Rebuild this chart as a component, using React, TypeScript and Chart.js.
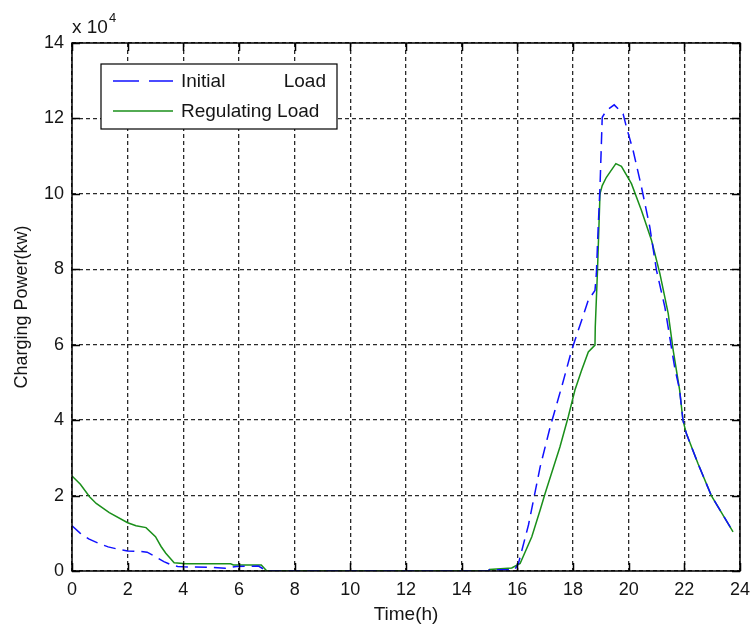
import React, { useEffect, useRef } from "react";
import { Chart, registerables } from "chart.js";

Chart.register(...registerables);

// Time (h) and load (kW)
const initialTime = [
  0, 0.3, 0.6, 1.0, 1.3, 1.7, 2.0, 2.4, 2.7, 3.0, 3.3, 3.6, 3.8, 4.0, 5.0, 5.5, 5.9, 6.7, 7.0,
  14.95, 15.0, 15.9, 16.04, 16.4, 16.82, 17.18, 17.6, 17.95, 18.07, 18.37, 18.55, 18.79, 18.84,
  18.9, 18.97, 19.05, 19.2, 19.48, 19.8, 19.92, 20.16, 20.46, 20.76, 21.0, 21.3, 21.65, 21.83,
  21.95, 22.07, 22.49, 22.97, 23.75,
];
const initialLoad = [
  12000, 10000, 8500, 7200, 6400, 5700, 5300, 5200, 5000, 3800, 2500, 1500, 1200, 1100, 1000, 700, 1200, 1300, 0,
  0, 300, 300, 2000, 12200, 27600, 38200, 49000, 58500, 61200, 67800, 71800, 74400, 78900,
  90300, 101800, 120300, 122100, 123600, 121200, 117700, 111500, 101800, 91200, 79700, 70000, 54100, 48000,
  40000, 36500, 28500, 20000, 10400,
];

const regulatingTime = [
  0, 0.3, 0.63, 0.87, 1.34, 2.0, 2.3, 2.66, 3.0, 3.2, 3.37, 3.67, 4.1, 5.7, 5.8, 6.8, 7.0,
  14.95, 15.0, 15.8, 16.1, 16.52, 16.82, 17.0, 17.53, 17.83, 18.07, 18.3, 18.55, 18.79, 18.8,
  18.88, 18.97, 19.05, 19.2, 19.54, 19.74, 20.1, 20.46, 20.82, 21.12, 21.42, 21.6, 21.83,
  21.95, 22.07, 22.49, 22.97, 23.75,
];
const regulatingLoad = [
  25200, 23000, 19700, 17900, 15500, 12800, 12000, 11500, 9100, 6500, 4700, 2200, 1900, 1900, 1600, 1600, 0,
  0, 400, 800, 2000, 9100, 16200, 20600, 32900, 40900, 48000, 53000, 58100, 59900, 64700,
  79700, 100000, 102200, 104400, 108000, 107300, 102700, 95600, 87700, 78900, 68300, 58500, 48000,
  40000, 36500, 28500, 20000, 10400,
];

const xTickValues = [0, 2, 4, 6, 8, 10, 12, 14, 16, 18, 20, 22, 24];
const yTickValues = [0, 20000, 40000, 60000, 80000, 100000, 120000, 140000];
const yExponent = "4";
const seriesNames = ["Initial Load", "Regulating Load"];

const FONT = "'Liberation Sans', Arial, sans-serif";
const TEXT = "#151515";

const toPoints = (t: number[], v: number[]) => t.map((x, i) => ({ x, y: v[i] }));

const framePlugin = {
  id: "matlabFrame",
  afterDraw(chart: any) {
    const { ctx, chartArea: a, scales } = chart;
    const x = scales.x;
    const y = scales.y;
    ctx.save();
    ctx.strokeStyle = "#000";
    ctx.lineWidth = 1.5;
    ctx.setLineDash([]);
    ctx.strokeRect(a.left, a.top, a.right - a.left, a.bottom - a.top);
    const tl = 8;
    ctx.beginPath();
    xTickValues.forEach((v) => {
      const px = Math.round(x.getPixelForValue(v)) + 0.5;
      ctx.moveTo(px, a.bottom);
      ctx.lineTo(px, a.bottom - tl);
      ctx.moveTo(px, a.top);
      ctx.lineTo(px, a.top + tl);
    });
    yTickValues.forEach((v) => {
      const py = Math.round(y.getPixelForValue(v)) + 0.5;
      ctx.moveTo(a.left, py);
      ctx.lineTo(a.left + tl, py);
      ctx.moveTo(a.right, py);
      ctx.lineTo(a.right - tl, py);
    });
    ctx.stroke();

    // exponent label
    ctx.fillStyle = TEXT;
    ctx.font = `19px ${FONT}`;
    ctx.textBaseline = "alphabetic";
    ctx.textAlign = "left";
    const base = "x 10";
    ctx.fillText(base, a.left, a.top - 10);
    const w = ctx.measureText(base).width;
    ctx.font = `13px ${FONT}`;
    ctx.fillText(yExponent, a.left + w + 1, a.top - 21);

    // legend box
    const lx = a.left + 29;
    const ly = a.top + 21;
    const lw = 236;
    const lh = 65;
    ctx.fillStyle = "#fff";
    ctx.fillRect(lx, ly, lw, lh);
    ctx.strokeStyle = "#000";
    ctx.lineWidth = 1.2;
    ctx.strokeRect(lx, ly, lw, lh);
    ctx.font = `19px ${FONT}`;
    ctx.textBaseline = "middle";
    const textX = lx + 80;
    const textRight = lx + lw - 11;
    chart.data.datasets.forEach((ds: any, i: number) => {
      const rowY = ly + 17 + i * 30;
      ctx.strokeStyle = ds.borderColor;
      ctx.lineWidth = 1.5;
      ctx.setLineDash(i === 0 ? [26, 10] : []);
      ctx.beginPath();
      ctx.moveTo(lx + 12, rowY);
      ctx.lineTo(lx + 72, rowY);
      ctx.stroke();
      ctx.setLineDash([]);
      ctx.fillStyle = TEXT;
      const words = String(ds.label).split(" ");
      if (i === 0 && words.length > 1) {
        ctx.textAlign = "left";
        ctx.fillText(words[0], textX, rowY + 1);
        ctx.textAlign = "right";
        ctx.fillText(words.slice(1).join(" "), textRight, rowY + 1);
      } else {
        ctx.textAlign = "left";
        ctx.fillText(ds.label, textX, rowY + 1);
      }
    });
    ctx.restore();
  },
};

export default function App() {
  const ref = useRef<HTMLCanvasElement | null>(null);

  useEffect(() => {
    if (!ref.current) return;
    const chart = new Chart(ref.current, {
      type: "line",
      data: {
        datasets: [
          {
            label: seriesNames[0],
            data: toPoints(initialTime, initialLoad),
            borderColor: "#1010ff",
            borderWidth: 1.5,
            borderDash: [12, 7],
            pointRadius: 0,
            tension: 0,
            fill: false,
          },
          {
            label: seriesNames[1],
            data: toPoints(regulatingTime, regulatingLoad),
            borderColor: "#1a8f1a",
            borderWidth: 1.5,
            pointRadius: 0,
            tension: 0,
            fill: false,
          },
        ],
      },
      options: {
        responsive: false,
        animation: false,
        devicePixelRatio: 1,
        layout: { padding: { top: 43, right: 12, left: 0, bottom: 0 } },
        plugins: { legend: { display: false }, tooltip: { enabled: false } },
        scales: {
          x: {
            type: "linear",
            min: 0,
            max: 24,
            afterBuildTicks: (s: any) => {
              s.ticks = xTickValues.map((v) => ({ value: v }));
            },
            afterFit: (s: any) => {
              s.height = 56;
              s.paddingLeft = 0;
              s.paddingRight = 0;
            },
            ticks: {
              font: { family: FONT, size: 18 },
              color: TEXT,
              padding: 8,
              maxRotation: 0,
              autoSkip: false,
            },
            grid: { color: "#2a2a2a", lineWidth: 1.3, drawTicks: false },
            border: { display: false, dash: [4, 3] },
            title: {
              display: true,
              text: "Time(h)",
              font: { family: FONT, size: 19 },
              color: TEXT,
              padding: { top: 0, bottom: 1 },
            },
          },
          y: {
            type: "linear",
            min: 0,
            max: 140000,
            afterBuildTicks: (s: any) => {
              s.ticks = yTickValues.map((v) => ({ value: v }));
            },
            afterFit: (s: any) => {
              s.width = 72;
              s.paddingTop = 0;
              s.paddingBottom = 0;
            },
            ticks: {
              font: { family: FONT, size: 18 },
              color: TEXT,
              padding: 8,
              callback: (v: any) => String(Number(v) / 10000),
            },
            grid: { color: "#2a2a2a", lineWidth: 1.3, drawTicks: false },
            border: { display: false, dash: [4, 3] },
            title: {
              display: true,
              text: "Charging Power(kw)",
              font: { family: FONT, size: 18 },
              color: TEXT,
              padding: { top: 11, bottom: 0 },
            },
          },
        },
      },
      plugins: [framePlugin],
    });
    return () => chart.destroy();
  }, []);

  return (
    <div style={{ position: "fixed", left: 0, top: 0, width: 752, height: 627, background: "#fff" }}>
      <canvas ref={ref} width={752} height={627} style={{ display: "block" }} />
    </div>
  );
}
